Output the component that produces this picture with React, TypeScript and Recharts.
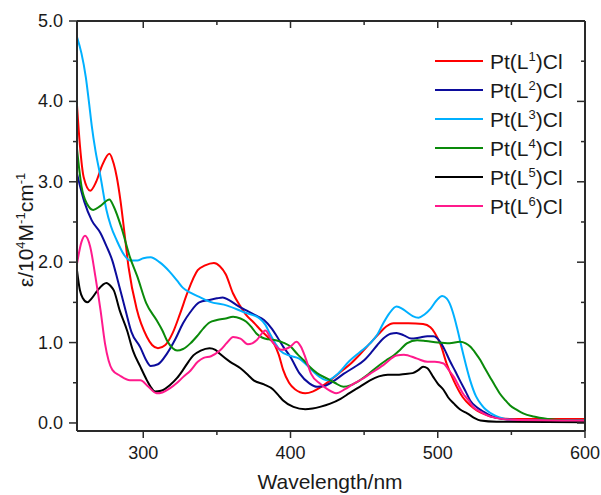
import React from 'react';
import { LineChart, Line, XAxis, YAxis, Legend } from 'recharts';

// wavelength (nm), epsilon (10^4 M^-1 cm^-1)
const l1: [number, number][] = [
  [255, 3.95], [257, 3.45], [259.5, 3.06], [264, 2.89], [268, 3.0], [272, 3.2], [277, 3.35], [280, 3.22],
  [282, 3.06], [284.5, 2.77], [287, 2.4], [290, 1.94], [295.5, 1.42], [302.5, 1.07], [306, 0.97], [310, 0.93],
  [315, 0.97], [320, 1.12], [325, 1.36], [330, 1.62], [337, 1.9], [342, 1.96], [348, 1.99], [352, 1.95],
  [356, 1.85], [361, 1.61], [366, 1.45], [370, 1.34], [375, 1.25], [380, 1.15], [385, 1.06], [389, 0.98],
  [392, 0.85], [395, 0.66], [399, 0.5], [403, 0.42], [410, 0.37], [415, 0.39], [420, 0.44], [427, 0.53],
  [435, 0.65], [441, 0.74], [448, 0.87], [454, 0.99], [460, 1.11], [465, 1.2], [470, 1.24], [480, 1.24],
  [490, 1.23], [495, 1.19], [498, 1.12], [502, 0.97], [506, 0.74], [511, 0.52], [517, 0.32], [522, 0.22],
  [527, 0.15], [533, 0.1], [538, 0.07], [550, 0.05], [575, 0.05], [600, 0.05],
];
const l2: [number, number][] = [
  [255, 3.1], [260, 2.75], [265, 2.52], [271, 2.36], [275, 2.2], [279, 2.02], [283, 1.75], [288, 1.4],
  [292, 1.13], [298, 0.94], [302, 0.78], [305, 0.71], [310, 0.73], [316, 0.86], [322, 1.05], [327, 1.24],
  [332, 1.38], [338, 1.5], [345, 1.53], [350, 1.55], [354, 1.56], [358, 1.53], [364, 1.46], [370, 1.4],
  [376, 1.34], [382, 1.28], [387, 1.18], [391, 1.07], [395, 0.95], [400, 0.82], [406, 0.62], [413, 0.49],
  [418, 0.45], [423, 0.46], [430, 0.53], [436, 0.61], [443, 0.69], [450, 0.78], [455, 0.88], [459, 0.97],
  [463, 1.05], [468, 1.11], [472, 1.12], [477, 1.09], [482, 1.05], [487, 1.06], [493, 1.08], [497, 1.08],
  [502, 1.0], [505, 0.9], [508, 0.78], [512, 0.64], [515, 0.53], [519, 0.39], [522, 0.28], [527, 0.19],
  [531, 0.14], [537, 0.08], [545, 0.05], [560, 0.03], [600, 0.03],
];
const l3: [number, number][] = [
  [255, 4.8], [258, 4.6], [261, 4.3], [263, 4.01], [265, 3.7], [267.5, 3.39], [271, 3.06], [275, 2.65],
  [278, 2.45], [282, 2.27], [287, 2.09], [291, 2.02], [296, 2.02], [300, 2.05], [305, 2.06], [311, 2.0],
  [318, 1.88], [323, 1.77], [327, 1.68], [332, 1.62], [339, 1.56], [345, 1.51], [357, 1.46], [368, 1.38],
  [379, 1.3], [383, 1.22], [386, 1.11], [390, 0.98], [393, 0.9], [399, 0.84], [406, 0.8], [411, 0.72],
  [416, 0.63], [420, 0.57], [425, 0.53], [432, 0.61], [440, 0.77], [447, 0.88], [454, 0.99], [459, 1.1],
  [463, 1.24], [467, 1.36], [472, 1.45], [476, 1.42], [479, 1.38], [483, 1.33], [487, 1.31], [491, 1.35],
  [495, 1.42], [499, 1.52], [503, 1.58], [506, 1.55], [508, 1.49], [511, 1.33], [513, 1.19], [517, 0.88],
  [522, 0.53], [526, 0.33], [530, 0.22], [533, 0.16], [538, 0.1], [542, 0.07], [550, 0.04], [570, 0.03],
  [600, 0.03],
];
const l4: [number, number][] = [
  [255, 3.41], [258, 2.95], [262, 2.72], [266, 2.65], [271, 2.7], [277, 2.78], [280, 2.69], [285, 2.44],
  [291, 2.06], [296, 1.82], [302, 1.49], [309, 1.28], [313, 1.15], [316, 1.03], [320, 0.93], [323, 0.9],
  [327, 0.92], [332, 0.99], [337, 1.09], [341, 1.18], [345, 1.25], [350, 1.28], [356, 1.3], [361, 1.32],
  [366, 1.3], [370, 1.26], [374, 1.18], [377, 1.11], [381, 1.06], [385, 1.04], [390, 1.03], [395, 1.0],
  [400, 0.95], [405, 0.85], [409, 0.78], [413, 0.7], [418, 0.62], [425, 0.55], [430, 0.5], [436, 0.45],
  [441, 0.47], [447, 0.53], [453, 0.61], [459, 0.7], [465, 0.78], [470, 0.84], [475, 0.92], [479, 0.99],
  [486, 1.03], [492, 1.02], [500, 1.0], [508, 0.99], [515, 1.01], [519, 0.99], [522, 0.95], [526, 0.86],
  [529, 0.78], [532, 0.68], [535.5, 0.57], [539, 0.46], [542, 0.37], [546, 0.28], [549, 0.22], [554, 0.16],
  [558, 0.12], [565, 0.08], [575, 0.05], [585, 0.035], [600, 0.03],
];
const l5: [number, number][] = [
  [255, 1.9], [257, 1.65], [259, 1.55], [262, 1.5], [265, 1.55], [269, 1.65], [275, 1.74], [278, 1.7],
  [280, 1.65], [284, 1.4], [289, 1.15], [293, 0.9], [298, 0.7], [302.5, 0.53], [305, 0.45], [308, 0.39],
  [312, 0.4], [318, 0.47], [323, 0.56], [327, 0.66], [331, 0.77], [334, 0.84], [339, 0.9], [345, 0.93],
  [349, 0.91], [352, 0.86], [359, 0.76], [366, 0.68], [371, 0.6], [375, 0.53], [382, 0.48], [388, 0.42],
  [392, 0.34], [395, 0.28], [402, 0.2], [410, 0.17], [415, 0.18], [420, 0.2], [427, 0.24], [434, 0.3],
  [440, 0.37], [447, 0.45], [454, 0.53], [460, 0.58], [466, 0.6], [472, 0.6], [478, 0.61], [483, 0.62],
  [487, 0.66], [490, 0.7], [493, 0.68], [497, 0.57], [500, 0.49], [504, 0.41], [507, 0.32], [511, 0.24],
  [515, 0.17], [520, 0.12], [525, 0.06], [529, 0.03], [540, 0.015], [600, 0.01],
];
const l6: [number, number][] = [
  [255, 1.98], [258, 2.25], [260.5, 2.33], [264, 2.19], [267.5, 1.82], [271, 1.4], [274, 0.99], [279, 0.66],
  [284, 0.59], [291, 0.53], [298, 0.53], [303.5, 0.45], [309, 0.37], [313, 0.38], [318, 0.43], [323, 0.5],
  [327, 0.57], [332, 0.65], [337, 0.76], [341, 0.81], [346, 0.83], [352, 0.9], [357, 1.0], [361, 1.07],
  [366, 1.05], [371, 0.98], [374, 0.99], [377, 1.03], [383, 1.15], [387, 1.03], [391, 0.94], [394, 0.91],
  [400, 0.95], [404, 1.01], [407, 0.95], [410, 0.82], [414, 0.61], [420, 0.49], [425, 0.42], [431, 0.37],
  [437, 0.42], [443, 0.49], [449, 0.55], [454, 0.61], [463, 0.72], [472, 0.84], [477, 0.85], [486, 0.8],
  [493, 0.76], [498, 0.76], [504, 0.74], [507, 0.67], [511, 0.57], [514, 0.47], [517, 0.37], [521, 0.28],
  [524, 0.2], [529, 0.14], [533, 0.1], [540, 0.06], [550, 0.04], [600, 0.03],
];

const ligands = ['1', '2', '3', '4', '5', '6'];
const colors = ['#ff0000', '#0c0c9c', '#00b0ff', '#0a8a0a', '#000000', '#ff1a8c'];
const spectra = [l1, l2, l3, l4, l5, l6];

const xTicks = [300, 350, 400, 450, 500, 550, 600];
const yTicks = [0, 0.5, 1, 1.5, 2, 2.5, 3, 3.5, 4, 4.5, 5];

const FONT = "Arial, 'Liberation Sans', sans-serif";
const AXIS = '#2a2a2a';
const TEXT = '#1a1a1a';

const BottomTick = (p: any) => {
  const v = p.payload.value;
  const major = v % 100 === 0;
  return (
    <g>
      <line x1={p.x} y1={p.y} x2={p.x} y2={p.y + (major ? 7 : 4)} stroke={AXIS} strokeWidth={1.5} />
      {major && (
        <text x={p.x} y={p.y + 28} textAnchor="middle" fontSize={18} fill={TEXT} fontFamily={FONT}>
          {v}
        </text>
      )}
    </g>
  );
};

const TopTick = (p: any) => {
  const major = p.payload.value % 100 === 0;
  return <line x1={p.x} y1={p.y} x2={p.x} y2={p.y + (major ? 7 : 4)} stroke={AXIS} strokeWidth={1.5} />;
};

const LeftTick = (p: any) => {
  const v = p.payload.value;
  const major = Number.isInteger(v);
  return (
    <g>
      <line x1={p.x} y1={p.y} x2={p.x - (major ? 8 : 4)} y2={p.y} stroke={AXIS} strokeWidth={1.5} />
      {major && (
        <text x={p.x - 14} y={p.y + 6} textAnchor="end" fontSize={18} fill={TEXT} fontFamily={FONT}>
          {v.toFixed(1)}
        </text>
      )}
    </g>
  );
};

const RightTick = (p: any) => {
  const major = Number.isInteger(p.payload.value);
  return <line x1={p.x} y1={p.y} x2={p.x - (major ? 8 : 4)} y2={p.y} stroke={AXIS} strokeWidth={1.5} />;
};

const XTitle = () => (
  <text x={330} y={489} textAnchor="middle" fontSize={21} fill={TEXT} fontFamily={FONT}>
    Wavelength/nm
  </text>
);

const YTitle = () => (
  <text
    x={33}
    y={230}
    transform="rotate(-90 33 230)"
    textAnchor="middle"
    fontSize={21}
    fill={TEXT}
    fontFamily={FONT}
  >
    ε/10
    <tspan dy={-8} fontSize={13}>4</tspan>
    <tspan dy={8}>M</tspan>
    <tspan dy={-8} fontSize={13}>-1</tspan>
    <tspan dy={8}>cm</tspan>
    <tspan dy={-8} fontSize={13}>-1</tspan>
  </text>
);

const LegendBox = (props: any) => {
  const items = props.payload || [];
  return (
    <svg width={170} height={180}>
      {items.map((it: any, i: number) => (
        <g key={i}>
          <line x1={3} y1={15 + i * 29} x2={51} y2={15 + i * 29} stroke={it.color} strokeWidth={2} />
          <text x={58} y={22.5 + i * 29} fontSize={21} fill={TEXT} fontFamily={FONT}>
            Pt(L
            <tspan dy={-8} fontSize={13}>{ligands[i]}</tspan>
            <tspan dy={8}>)Cl</tspan>
          </text>
        </g>
      ))}
    </svg>
  );
};

export default function App() {
  return (
    <div style={{ position: 'absolute', left: 0, top: 0, background: '#fff' }}>
      <LineChart width={601} height={495} margin={{ top: 0, right: 0, bottom: 0, left: 0 }}>
        <XAxis
          xAxisId="b"
          dataKey="x"
          type="number"
          domain={[255, 600]}
          ticks={xTicks}
          interval={0}
          allowDataOverflow
          height={64}
          tickSize={0}
          tickMargin={0}
          tickLine={false}
          tick={<BottomTick />}
          axisLine={{ stroke: AXIS, strokeWidth: 2 }}
          label={<XTitle />}
        />
        <XAxis
          xAxisId="t"
          orientation="top"
          dataKey="x"
          type="number"
          domain={[255, 600]}
          ticks={xTicks}
          interval={0}
          allowDataOverflow
          height={21}
          tickSize={0}
          tickMargin={0}
          tickLine={false}
          tick={<TopTick />}
          axisLine={{ stroke: AXIS, strokeWidth: 2 }}
        />
        <YAxis
          yAxisId="l"
          type="number"
          domain={[-0.1, 5]}
          ticks={yTicks}
          interval={0}
          allowDataOverflow
          width={77}
          tickSize={0}
          tickMargin={0}
          tickLine={false}
          tick={<LeftTick />}
          axisLine={{ stroke: AXIS, strokeWidth: 2 }}
          label={<YTitle />}
        />
        <YAxis
          yAxisId="r"
          orientation="right"
          type="number"
          domain={[-0.1, 5]}
          ticks={yTicks}
          interval={0}
          allowDataOverflow
          width={16}
          tickSize={0}
          tickMargin={0}
          tickLine={false}
          tick={<RightTick />}
          axisLine={{ stroke: AXIS, strokeWidth: 2 }}
        />
        <Legend
          layout="vertical"
          align="center"
          verticalAlign="middle"
          content={<LegendBox />}
          wrapperStyle={{ position: 'absolute', left: 432, top: 46, width: 170, height: 180 }}
        />
        {spectra.map((s, i) => (
          <Line
            key={i}
            xAxisId="b"
            yAxisId="l"
            data={s.map(([x, y]) => ({ x, y }))}
            dataKey="y"
            name={`Pt(L${ligands[i]})Cl`}
            type="monotone"
            stroke={colors[i]}
            strokeWidth={2}
            dot={false}
            activeDot={false}
            isAnimationActive={false}
          />
        ))}
      </LineChart>
    </div>
  );
}
